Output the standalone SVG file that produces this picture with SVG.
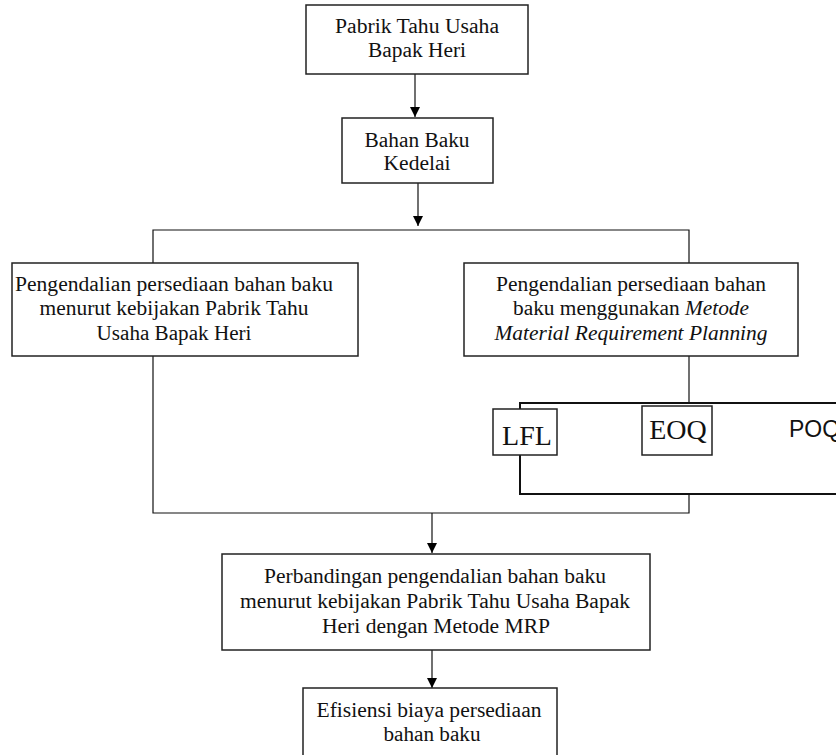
<svg xmlns="http://www.w3.org/2000/svg" width="836" height="755" viewBox="0 0 836 755">
<defs>
<style>
.box{fill:#fff;stroke:#222;stroke-width:1.5}
.ln{fill:none;stroke:#111;stroke-width:1.2}
.thick{fill:none;stroke:#111;stroke-width:2}
.t{font-family:"Liberation Serif","Times New Roman",serif;font-size:20px;fill:#111;text-anchor:middle}
.big{font-family:"Liberation Serif","Times New Roman",serif;font-size:28px;fill:#111;text-anchor:middle}
.sans{font-family:"Liberation Sans",Arial,sans-serif;font-size:23px;fill:#111}
.i{font-style:italic}
</style>
<marker id="ah" viewBox="0 0 10 10" refX="10" refY="5" markerWidth="10" markerHeight="10" markerUnits="userSpaceOnUse" orient="auto">
<path d="M0,0 L10,5 L0,10 z" fill="#000"/>
</marker>
</defs>
<rect width="836" height="755" fill="#fff"/>
<g id="connectors">
<line class="ln" x1="415" y1="74" x2="415" y2="117" marker-end="url(#ah)"/>
<line class="ln" x1="418" y1="183" x2="418" y2="226" marker-end="url(#ah)"/>
<polyline class="ln" points="153,263 153,230 689,230 689,263"/>
<polyline class="ln" points="689,356 689,403"/>
<polyline class="ln" points="153,356 153,513 689,513 689,494"/>
<path class="thick" d="M838,403 H520 V494 H838"/>
<line class="ln" x1="432" y1="513" x2="432" y2="553" marker-end="url(#ah)"/>
<line class="ln" x1="432" y1="645" x2="432" y2="688" marker-end="url(#ah)"/>
</g>
<g id="n1">
<rect class="box" x="306" y="5" width="222" height="69"/>
<text class="t" x="417" y="33" textLength="164" lengthAdjust="spacingAndGlyphs">Pabrik Tahu Usaha</text>
<text class="t" x="417" y="57" textLength="98" lengthAdjust="spacingAndGlyphs">Bapak Heri</text>
</g>
<g id="n2">
<rect class="box" x="342" y="118" width="151" height="65"/>
<text class="t" x="417" y="147" textLength="105" lengthAdjust="spacingAndGlyphs">Bahan Baku</text>
<text class="t" x="417" y="170" textLength="67" lengthAdjust="spacingAndGlyphs">Kedelai</text>
</g>
<g id="n3">
<rect class="box" x="12" y="263" width="346" height="93"/>
<text class="t" x="174" y="291" textLength="318" lengthAdjust="spacingAndGlyphs">Pengendalian persediaan bahan baku</text>
<text class="t" x="174" y="315" textLength="269" lengthAdjust="spacingAndGlyphs">menurut kebijakan Pabrik Tahu</text>
<text class="t" x="174" y="340" textLength="155" lengthAdjust="spacingAndGlyphs">Usaha Bapak Heri</text>
</g>
<g id="n4">
<rect class="box" x="464" y="263" width="334" height="93"/>
<text class="t" x="631" y="291" textLength="270" lengthAdjust="spacingAndGlyphs">Pengendalian persediaan bahan</text>
<text class="t" x="631" y="315" textLength="236" lengthAdjust="spacingAndGlyphs">baku menggunakan <tspan class="i">Metode</tspan></text>
<text class="t i" x="631" y="340" textLength="273" lengthAdjust="spacingAndGlyphs">Material Requirement Planning</text>
</g>
<g id="n5">
<rect class="box" x="493" y="409" width="64" height="46"/>
<text class="big" x="527" y="445">LFL</text>
</g>
<g id="n6">
<rect class="box" x="642" y="406" width="70" height="49"/>
<text class="big" x="678" y="439">EOQ</text>
</g>
<g id="n7">
<text class="sans" x="789" y="437">POQ</text>
</g>
<g id="n8">
<rect class="box" x="222" y="554" width="428" height="96"/>
<text class="t" x="435" y="583" textLength="342" lengthAdjust="spacingAndGlyphs">Perbandingan pengendalian bahan baku</text>
<text class="t" x="435" y="608" textLength="390" lengthAdjust="spacingAndGlyphs">menurut kebijakan Pabrik Tahu Usaha Bapak</text>
<text class="t" x="436" y="633" textLength="228" lengthAdjust="spacingAndGlyphs">Heri dengan Metode MRP</text>
</g>
<g id="n9">
<rect class="box" x="303" y="688" width="254" height="80"/>
<text class="t" x="429" y="717" textLength="225" lengthAdjust="spacingAndGlyphs">Efisiensi biaya persediaan</text>
<text class="t" x="432" y="741" textLength="97" lengthAdjust="spacingAndGlyphs">bahan baku</text>
</g>
</svg>
